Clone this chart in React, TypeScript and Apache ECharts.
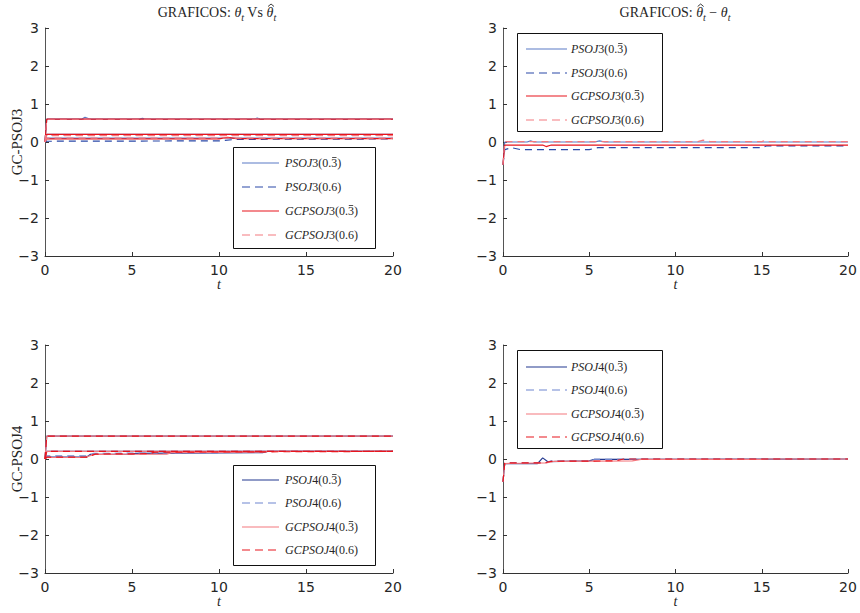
import React, { useEffect, useRef } from 'react';
import * as echarts from 'echarts';

// ---------- axis ticks ----------
const xTicks = [0, 5, 10, 15, 20];
const yTicks = [-3, -2, -1, 0, 1, 2, 3];

// ---------- legend names (the last digit of "0.3" carries an overbar) ----------
const namesJ3 = ['PSOJ3(0.3\u0304)', 'PSOJ3(0.6)', 'GCPSOJ3(0.3\u0304)', 'GCPSOJ3(0.6)'];
const namesJ4 = ['PSOJ4(0.3\u0304)', 'PSOJ4(0.6)', 'GCPSOJ4(0.3\u0304)', 'GCPSOJ4(0.6)'];

// ---------- top-left: theta estimates, J3 ----------
const tlPso03 = [
  [[0, 0], [0.1, 0.6], [2.1, 0.6], [2.3, 0.65], [2.6, 0.6], [5.4, 0.6], [5.6, 0.62], [5.8, 0.6], [12, 0.6], [12.2, 0.63], [12.4, 0.6], [20, 0.6]],
  [[0, 0], [0.1, 0.2], [20, 0.2]],
  [[0, 0], [0.1, 0.1], [20, 0.1]],
];
const tlPso06 = [
  [[0, 0], [0.1, 0.6], [20, 0.6]],
  [[0, 0], [0.1, 0.19], [20, 0.19]],
  [[0, 0], [0.1, 0.02], [10, 0.03], [11, 0.07], [20, 0.08]],
];
const tlGc03 = [
  [[0, 0], [0.1, 0.6], [20, 0.6]],
  [[0, 0], [0.1, 0.2], [20, 0.2]],
  [[0, 0], [0.1, 0.08], [10, 0.08], [10.5, 0.12], [11, 0.09], [20, 0.09]],
];
const tlGc06 = [
  [[0, 0], [0.1, 0.6], [20, 0.6]],
  [[0, 0], [0.1, 0.17], [20, 0.17]],
  [[0, 0], [0.1, 0.1], [20, 0.1]],
];

// ---------- top-right: estimation error, J3 ----------
const trPso03 = [[[0, -0.6], [0.1, 0], [1.4, 0], [1.6, 0.03], [1.8, 0], [5.3, 0], [5.6, 0.03], [5.9, 0], [20, 0]]];
const trPso06 = [[[0, -0.6], [0.1, -0.2], [0.5, -0.15], [1, -0.2], [5, -0.2], [5.5, -0.15], [15, -0.15], [15.3, -0.1], [20, -0.1]]];
const trGc03 = [[[0, -0.6], [0.1, -0.08], [2.3, -0.08], [2.5, -0.12], [2.8, -0.08], [20, -0.08]]];
const trGc06 = [[[0, -0.6], [0.1, 0.01], [11.3, 0.01], [11.6, 0.05], [12, 0.01], [15, 0.01], [15.2, 0.04], [15.4, 0.01], [20, 0.01]]];

// ---------- bottom-left: theta estimates, J4 ----------
const blPso03 = [
  [[0, 0], [0.1, 0.6], [20, 0.6]],
  [[0, 0], [0.1, 0.2], [20, 0.2]],
  [[0, 0], [0.1, 0.05], [2.4, 0.05], [2.6, 0.12], [5, 0.12], [5.2, 0.15], [12.5, 0.17], [12.8, 0.2], [20, 0.2]],
];
const blPso06 = [
  [[0, 0], [0.1, 0.6], [20, 0.6]],
  [[0, 0], [0.1, 0.2], [20, 0.2]],
  [[0, 0], [0.1, 0.08], [2.5, 0.08], [2.8, 0.15], [10, 0.16], [10.5, 0.2], [20, 0.2]],
];
const blGc03 = [
  [[0, 0], [0.1, 0.6], [20, 0.6]],
  [[0, 0], [0.1, 0.2], [20, 0.2]],
  [[0, 0], [0.1, 0.04], [2.3, 0.04], [2.8, 0.12], [7, 0.13], [7.3, 0.17], [12.5, 0.18], [12.8, 0.2], [20, 0.2]],
];
const blGc06 = [
  [[0, 0], [0.1, 0.6], [20, 0.6]],
  [[0, 0], [0.1, 0.2], [20, 0.2]],
  [[0, 0], [0.1, 0.05], [2.4, 0.05], [2.9, 0.13], [6, 0.14], [6.3, 0.18], [20, 0.2]],
];

// ---------- bottom-right: estimation error, J4 ----------
const brPso03 = [[[0, -0.6], [0.1, -0.12], [2, -0.12], [2.3, 0.03], [2.6, -0.07], [5, -0.05], [5.3, -0.01], [20, 0]]];
const brPso06 = [[[0, -0.6], [0.1, -0.1], [2.5, -0.1], [2.8, -0.05], [5, -0.05], [5.3, -0.01], [7.8, -0.01], [8, 0], [20, 0]]];
const brGc03 = [[[0, -0.6], [0.1, -0.12], [2.5, -0.1], [3, -0.06], [7.5, -0.05], [8, -0.01], [15, -0.01], [15.3, 0], [20, 0]]];
const brGc06 = [[[0, -0.6], [0.1, -0.1], [2.4, -0.1], [2.8, -0.06], [6.5, -0.05], [7, 0], [20, 0]]];

// ---------- styles ----------
const colorsJ3 = ['#5b7bc6', '#2a48a8', '#e8141c', '#f47a80'];
const colorsJ4 = ['#22388f', '#6f86d0', '#f4787f', '#e8161e'];
const dashed = [false, true, false, true];
const DASH = [7, 5];

const SERIF_NAME = 'Liberation Serif';
const SERIF = '"Liberation Serif", "Times New Roman", serif';
const SANS = '"DejaVu Sans", "Liberation Sans", Arial, sans-serif';
const TXT = '#262626';

const grids = [
  { left: 45, top: 28, width: 348, height: 228 },
  { left: 503, top: 28, width: 345, height: 228 },
  { left: 45, top: 345, width: 348, height: 228 },
  { left: 503, top: 345, width: 345, height: 228 },
];

const panels = [
  { names: namesJ3, colors: colorsJ3, data: [tlPso03, tlPso06, tlGc03, tlGc06], yName: 'GC-PSOJ3' },
  { names: namesJ3, colors: colorsJ3, data: [trPso03, trPso06, trGc03, trGc06], yName: '' },
  { names: namesJ4, colors: colorsJ4, data: [blPso03, blPso06, blGc03, blGc06], yName: 'GC-PSOJ4' },
  { names: namesJ4, colors: colorsJ4, data: [brPso03, brPso06, brGc03, brGc06], yName: '' },
];

// legend boxes: frame, line sample start/end, text start, row centres
const legendBoxes = [
  { x: 233, y: 147, w: 142, h: 101, l0: 242, l1: 279, tx: 285, rows: [163, 187, 211, 235] },
  { x: 517, y: 33, w: 145, h: 98, l0: 526, l1: 567, tx: 571, rows: [49, 73, 96, 120] },
  { x: 233, y: 465, w: 142, h: 100, l0: 242, l1: 279, tx: 285, rows: [480, 503, 527, 550] },
  { x: 517, y: 350, w: 145, h: 98, l0: 526, l1: 567, tx: 571, rows: [367, 390, 414, 437] },
];

const minusFmt = (v: number) => String(v).replace('-', '\u2212');

let _ctx: CanvasRenderingContext2D | null = null;
function textWidth(text: string, size: number, italic: boolean) {
  if (!_ctx) _ctx = document.createElement('canvas').getContext('2d');
  if (!_ctx) return text.length * size * 0.5;
  _ctx.font = `${italic ? 'italic ' : ''}${size}px "${SERIF_NAME}"`;
  return _ctx.measureText(text).width;
}

type Tok = { t: string; size: number; italic: boolean; sub?: boolean; hat?: boolean };

function buildTitle(cx: number, cy: number, toks: Tok[]) {
  const widths = toks.map((k) => textWidth(k.t, k.size, k.italic));
  const total = widths.reduce((a, b) => a + b, 0);
  let x = cx - total / 2;
  const els: any[] = [];
  toks.forEach((k, i) => {
    els.push({
      type: 'text',
      x,
      y: k.sub ? cy + 4.5 : cy,
      silent: true,
      style: {
        text: k.t,
        fill: TXT,
        font: `${k.italic ? 'italic ' : ''}${k.size}px ${SERIF}`,
        align: 'left',
        verticalAlign: 'middle',
      },
    });
    if (k.hat) {
      const hx = x + widths[i] / 2 + 1;
      els.push({
        type: 'polyline',
        silent: true,
        shape: { points: [[hx - 3, cy - 6], [hx, cy - 8.5], [hx + 3, cy - 6]] },
        style: { stroke: TXT, lineWidth: 0.9, fill: 'none' },
      });
    }
    x += widths[i];
  });
  return els;
}

function buildLegend(b: (typeof legendBoxes)[number], names: string[], colors: string[]) {
  const els: any[] = [
    {
      type: 'rect',
      silent: true,
      z: 10,
      shape: { x: b.x + 0.5, y: b.y + 0.5, width: b.w, height: b.h },
      style: { fill: '#ffffff', stroke: '#111111', lineWidth: 1 },
    },
  ];
  names.forEach((name, i) => {
    const cy = b.rows[i];
    els.push({
      type: 'line',
      silent: true,
      z: 11,
      shape: { x1: b.l0, y1: cy, x2: b.l1, y2: cy },
      style: { stroke: colors[i], lineWidth: 1.2, lineDash: dashed[i] ? [8, 5] : null },
    });
    const m = name.match(/^([A-Z]+)(\d\(0\.)(\d)(\u0304?)\)$/);
    if (!m) return;
    const parts: Tok[] = [
      { t: m[1], size: 12, italic: true },
      { t: m[2], size: 12, italic: false },
      { t: m[3], size: 12, italic: false },
      { t: ')', size: 12, italic: false },
    ];
    let x = b.tx;
    parts.forEach((p, j) => {
      const w = textWidth(p.t, p.size, p.italic);
      els.push({
        type: 'text',
        silent: true,
        z: 11,
        x,
        y: cy,
        style: {
          text: p.t,
          fill: TXT,
          font: `${p.italic ? 'italic ' : ''}${p.size}px ${SERIF}`,
          align: 'left',
          verticalAlign: 'middle',
        },
      });
      if (j === 2 && m[4]) {
        els.push({
          type: 'line',
          silent: true,
          z: 11,
          shape: { x1: x + 0.8, y1: cy - 5.5, x2: x + w - 0.8, y2: cy - 5.5 },
          style: { stroke: TXT, lineWidth: 0.8 },
        });
      }
      x += w;
    });
  });
  return els;
}

export default function App() {
  const ref = useRef<HTMLDivElement>(null);
  useEffect(() => {
    if (!ref.current) return;
    const chart = echarts.init(ref.current, undefined, { renderer: 'svg' });

    const series: any[] = [];
    panels.forEach((p, gi) => {
      p.data.forEach((comps, si) => {
        comps.forEach((c) => {
          series.push({
            type: 'line',
            name: p.names[si],
            xAxisIndex: gi,
            yAxisIndex: gi,
            data: c,
            symbol: 'none',
            silent: true,
            color: p.colors[si],
            lineStyle: { color: p.colors[si], width: 1.2, type: dashed[si] ? DASH : 'solid' },
            z: 2 + si,
          });
        });
      });
    });

    const axisColor = '#333333';
    const xAxes = grids.map((_, gi) => ({
      type: 'value',
      gridIndex: gi,
      min: xTicks[0],
      max: xTicks[xTicks.length - 1],
      interval: xTicks[1] - xTicks[0],
      name: 't',
      nameLocation: 'middle',
      nameGap: 21,
      nameMoveOverlap: false,
      nameTextStyle: { fontFamily: SERIF, fontSize: 14, fontStyle: 'italic', color: TXT },
      axisLine: { show: true, onZero: false, lineStyle: { color: axisColor, width: 1 } },
      axisTick: { show: true, inside: true, length: 4, lineStyle: { color: axisColor } },
      axisLabel: { margin: 7, fontFamily: SANS, fontSize: 14, color: TXT, formatter: minusFmt },
      splitLine: { show: false },
    }));
    const yAxes = grids.map((_, gi) => ({
      type: 'value',
      gridIndex: gi,
      min: yTicks[0],
      max: yTicks[yTicks.length - 1],
      interval: yTicks[1] - yTicks[0],
      name: panels[gi].yName,
      nameLocation: 'middle',
      nameGap: 21,
      nameMoveOverlap: false,
      nameTextStyle: { fontFamily: SERIF, fontSize: 15, color: TXT },
      axisLine: { show: true, onZero: false, lineStyle: { color: '#555555', width: 1 } },
      axisTick: { show: true, inside: true, length: 4, lineStyle: { color: axisColor } },
      axisLabel: { margin: 6, fontFamily: SANS, fontSize: 14, color: TXT, formatter: minusFmt },
      splitLine: { show: false },
    }));

    const graphics: any[] = [];
    panels.forEach((p, gi) => {
      graphics.push(...buildLegend(legendBoxes[gi], p.names, p.colors));
    });
    graphics.push(
      ...buildTitle(217, 12.5, [
        { t: 'GRAFICOS: ', size: 14, italic: false },
        { t: '\u03b8', size: 14, italic: true },
        { t: 't', size: 10, italic: true, sub: true },
        { t: ' Vs ', size: 14, italic: false },
        { t: '\u03b8', size: 14, italic: true, hat: true },
        { t: 't', size: 10, italic: true, sub: true },
      ])
    );
    graphics.push(
      ...buildTitle(675, 12.5, [
        { t: 'GRAFICOS: ', size: 14, italic: false },
        { t: '\u03b8', size: 14, italic: true, hat: true },
        { t: 't', size: 10, italic: true, sub: true },
        { t: ' \u2212 ', size: 14, italic: false },
        { t: '\u03b8', size: 14, italic: true },
        { t: 't', size: 10, italic: true, sub: true },
      ])
    );

    chart.setOption({
      animation: false,
      backgroundColor: '#ffffff',
      grid: grids.map((g) => ({ ...g, containLabel: false })),
      xAxis: xAxes,
      yAxis: yAxes,
      graphic: graphics,
      series,
    });
    return () => chart.dispose();
  }, []);
  return <div ref={ref} style={{ position: 'absolute', left: 0, top: 0, width: 860, height: 613 }} />;
}
